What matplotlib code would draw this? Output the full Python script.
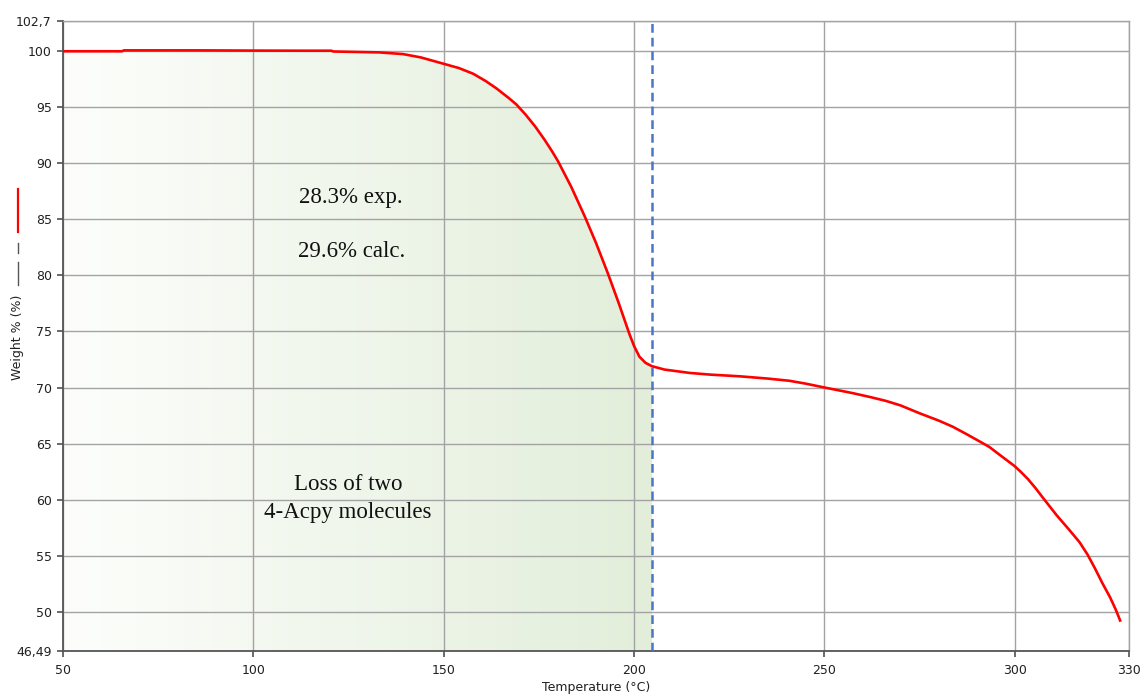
import numpy as np
import matplotlib
matplotlib.use("Agg")
import matplotlib.pyplot as plt
from matplotlib.lines import Line2D

# TGA trace: temperature (°C) and residual weight (%)
temperature = [50, 65.5, 66, 85, 100, 113, 120.5, 121, 133, 139.3, 144, 149.8,
               154, 157.7, 161, 163.8, 167, 169.1, 171.5, 174, 176.5, 178.5,
               180, 183.5, 187, 190, 193.1, 196, 198.8, 200, 201.4, 203, 204.7,
               208, 214.6, 220, 227.7, 235, 240.8, 245, 250, 257.4, 262, 266.2,
               270, 275, 280, 283.7, 287, 290.7, 293.3, 296, 299.9, 301.5,
               303.4, 305.5, 307.3, 311, 314.3, 317, 319.1, 321, 323, 325,
               326.5, 327.8]
weight = [100.0, 100.0, 100.08, 100.08, 100.06, 100.05, 100.05, 99.98, 99.9,
          99.75, 99.45, 98.9, 98.5, 98.0, 97.35, 96.7, 95.85, 95.25, 94.35,
          93.3, 92.1, 91.05, 90.2, 87.9, 85.3, 82.9, 80.2, 77.5, 74.75, 73.7,
          72.75, 72.2, 71.9, 71.6, 71.3, 71.15, 71.0, 70.8, 70.6, 70.35, 70.0,
          69.5, 69.15, 68.8, 68.4, 67.7, 67.05, 66.5, 65.9, 65.2, 64.7, 64.0,
          63.0, 62.5, 61.85, 61.0, 60.2, 58.6, 57.3, 56.2, 55.1, 53.9, 52.55,
          51.3, 50.2, 49.1]

x_ticks = [50, 100, 150, 200, 250, 300, 330]
y_ticks = [46.49, 50, 55, 60, 65, 70, 75, 80, 85, 90, 95, 100, 102.7]
y_tick_labels = ["46,49", "50", "55", "60", "65", "70", "75", "80", "85", "90",
                 "95", "100", "102,7"]
x_range = (50, 330)
y_range = (46.49, 102.7)
step_end = 204.7  # end of the first mass-loss step

exp_label = "28.3% exp."
calc_label = "29.6% calc."
step_label_lines = ["Loss of two", "4-Acpy molecules"]

T = np.array(temperature)
W = np.array(weight)

W_PX, H_PX, DPI = 1145, 698, 100
fig = plt.figure(figsize=(W_PX / DPI, H_PX / DPI), dpi=DPI)
ax = fig.add_axes([63 / W_PX, 1 - 651 / H_PX, (1129 - 63) / W_PX, (651 - 21) / H_PX])
ax.set_xlim(*x_range)
ax.set_ylim(*y_range)

tick_font = dict(family="DejaVu Sans", size=9, color="#202020")

# grid
grid_c = "#a3a3a3"
for xt in x_ticks:
    ax.axvline(xt, color=grid_c, lw=1.0, zorder=1)
for yt in y_ticks:
    ax.axhline(yt, color=grid_c, lw=1.0, zorder=1)

# green gradient under the first step
grad = np.linspace(0, 1, 256)
c0 = np.array([253, 254, 252]) / 255.0
c1 = np.array([226, 238, 218]) / 255.0
img = (c0[None, :] * (1 - grad[:, None]) + c1[None, :] * grad[:, None])[None, :, :]
mask = T <= step_end
poly = ax.fill_between(T[mask], W[mask], y_range[0], color="none", lw=0)
im = ax.imshow(img, extent=[x_range[0], step_end, y_range[0], y_range[1]],
               aspect="auto", origin="lower", zorder=0.5, interpolation="bilinear")
im.set_clip_path(poly.get_paths()[0], transform=ax.transData)

# dashed marker at the end of the step
ax.axvline(step_end, color="#4a76c6", lw=1.8, ls=(0, (3.5, 2.0)), zorder=4)

# TGA curve
ax.plot(T, W, color="#ff0000", lw=1.9, zorder=5, solid_capstyle="butt")

# annotations
serif = dict(family="Liberation Serif", size=16.5, color="#111111")
ax.text(125.6, 86.49, exp_label, ha="center", va="baseline", **serif)
ax.text(125.9, 81.67, calc_label, ha="center", va="baseline", **serif)
ax.text(124.8, 60.89, step_label_lines[0], ha="center", va="baseline", **serif)
ax.text(124.8, 58.37, step_label_lines[1], ha="center", va="baseline", **serif)

# axes styling
ax.set_xticks(x_ticks)
ax.set_xticklabels([str(v) for v in x_ticks], **tick_font)
ax.set_yticks(y_ticks)
ax.set_yticklabels(y_tick_labels, **tick_font)
ax.tick_params(axis="x", direction="out", length=4, width=1.2, color="#505050", pad=5)
ax.tick_params(axis="y", direction="out", length=4, width=1.2, color="#505050", pad=4)
for side in ("left", "bottom"):
    ax.spines[side].set_color("#555555")
    ax.spines[side].set_linewidth(1.3)
for side in ("top", "right"):
    ax.spines[side].set_color(grid_c)
    ax.spines[side].set_linewidth(1.0)

fig.text(596 / W_PX, 1 - 688 / H_PX, "Temperature (°C)", ha="center", va="center",
         **tick_font)
fig.text(18 / W_PX, 1 - 337 / H_PX, "Weight % (%)", ha="center", va="center",
         rotation=90, **tick_font)

# series key drawn beside the y label
def key_line(y0, y1, color, lw):
    fig.add_artist(Line2D([18 / W_PX, 18 / W_PX], [1 - y0 / H_PX, 1 - y1 / H_PX],
                          transform=fig.transFigure, color=color, lw=lw))

key_line(189, 232, "#ff0000", 1.6)
key_line(243, 253, "#555555", 1.0)
key_line(262, 285, "#555555", 1.0)

fig.savefig("out.png", dpi=DPI, facecolor="white")
